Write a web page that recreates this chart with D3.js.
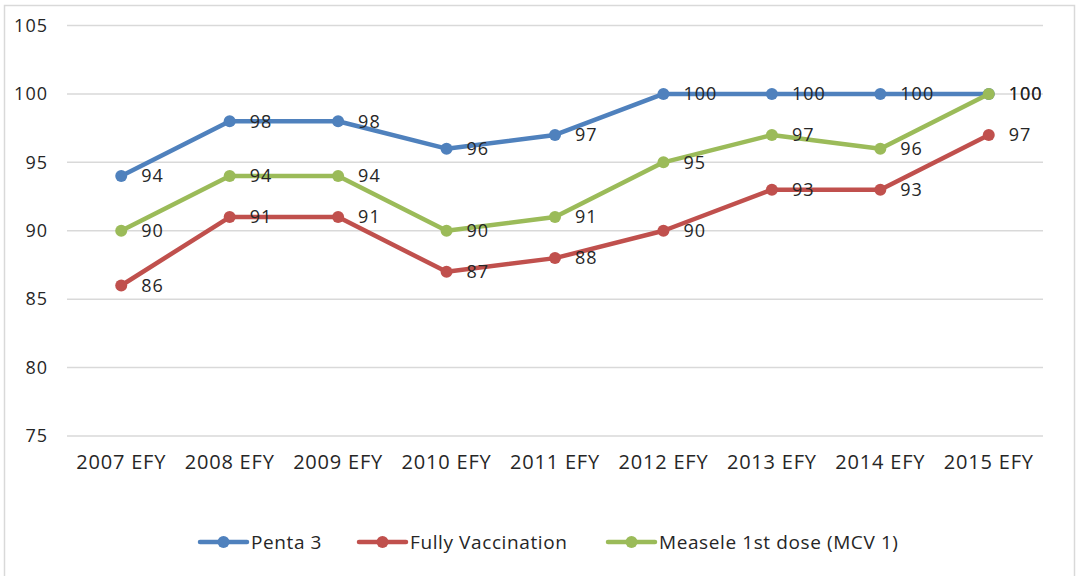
<!DOCTYPE html>
<html lang="en">
<head>
    <meta charset="UTF-8">
    <title>Immunization coverage</title>
    <script src="https://d3js.org/d3.v7.min.js"></script>
    <style>
        body { margin: 0; background: #fff; }
        text { font-family: "Open Sans", "Noto Sans", sans-serif; fill: #262626; }
    </style>
</head>
<body>
    <div id="chart"></div>
    <script>
        // chart data
        const years = ["2007 EFY", "2008 EFY", "2009 EFY", "2010 EFY", "2011 EFY",
                       "2012 EFY", "2013 EFY", "2014 EFY", "2015 EFY"];
        const penta3 = [94, 98, 98, 96, 97, 100, 100, 100, 100];
        const fullyVacc = [86, 91, 91, 87, 88, 90, 93, 93, 97];
        const mcv1 = [90, 94, 94, 90, 91, 95, 97, 96, 100];
        const yTicks = [75, 80, 85, 90, 95, 100, 105];
        const seriesNames = ["Penta 3", "Fully Vaccination", "Measele 1st dose (MCV 1)"];
        const colors = ["#4f81bd", "#c0504d", "#9bbb59"];

        const width = 1077, height = 576;

        const svg = d3.select("#chart")
          .append("svg")
            .attr("width", width)
            .attr("height", height);

        // outer frame
        svg.append("rect")
            .attr("x", 4.5).attr("y", 5.5)
            .attr("width", 1070).attr("height", 575)
            .attr("fill", "none")
            .attr("stroke", "#d9d9d9")
            .attr("stroke-width", 1.5);

        const x = d3.scaleBand()
          .domain(years)
          .range([67, 1043]);

        const y = d3.scaleLinear()
          .domain([75, 105])
          .range([436, 25.5]);

        // gridlines
        svg.append("g")
          .selectAll("line")
          .data(yTicks)
          .join("line")
            .attr("x1", 67).attr("x2", 1043)
            .attr("y1", d => y(d)).attr("y2", d => y(d))
            .attr("stroke", "#d9d9d9")
            .attr("stroke-width", 1.5);

        // y labels
        svg.append("g")
          .selectAll("text")
          .data(yTicks)
          .join("text")
            .attr("x", 48)
            .attr("y", d => y(d))
            .attr("dy", "0.35em")
            .attr("text-anchor", "end")
            .style("font-size", "18px")
            .style("letter-spacing", "1px")
            .text(d => d);

        // x labels
        svg.append("g")
          .selectAll("text")
          .data(years)
          .join("text")
            .attr("x", d => x(d) + x.bandwidth() / 2)
            .attr("y", 462)
            .attr("dy", "0.35em")
            .attr("text-anchor", "middle")
            .style("font-size", "20px")
            .style("letter-spacing", "0.8px")
            .text(d => d);

        const all = [penta3, fullyVacc, mcv1];
        const cx = i => x(years[i]) + x.bandwidth() / 2;

        const line = d3.line()
          .x((d, i) => cx(i))
          .y(d => y(d));

        all.forEach((vals, s) => {
            const g = svg.append("g");
            g.append("path")
              .datum(vals)
              .attr("d", line)
              .attr("fill", "none")
              .attr("stroke", colors[s])
              .attr("stroke-width", 4.5)
              .attr("stroke-linejoin", "round");
            g.selectAll("circle")
              .data(vals)
              .join("circle")
                .attr("cx", (d, i) => cx(i))
                .attr("cy", d => y(d))
                .attr("r", 6)
                .attr("fill", colors[s]);
        });

        // data labels drawn after all lines so they sit on top
        all.forEach((vals, s) => {
            svg.append("g")
              .selectAll("text")
              .data(vals)
              .join("text")
                .attr("x", (d, i) => cx(i) + 20)
                .attr("y", d => y(d))
                .attr("dy", "0.35em")
                .style("font-size", "18px")
                .style("letter-spacing", "1px")
                .text(d => d);
        });

        // legend
        const legendX = [199, 358, 607];
        const legend = svg.append("g");
        seriesNames.forEach((name, s) => {
            const lg = legend.append("g")
              .attr("transform", `translate(${legendX[s]}, 542)`);
            lg.append("line")
              .attr("x1", 1).attr("x2", 48)
              .attr("stroke", colors[s])
              .attr("stroke-width", 4.5)
              .attr("stroke-linecap", "round");
            lg.append("circle")
              .attr("cx", 24.5).attr("r", 6)
              .attr("fill", colors[s]);
            lg.append("text")
              .attr("x", 52)
              .attr("dy", "0.35em")
              .style("font-size", "19px")
              .style("letter-spacing", "0.6px")
              .text(name);
        });
    </script>
</body>
</html>
